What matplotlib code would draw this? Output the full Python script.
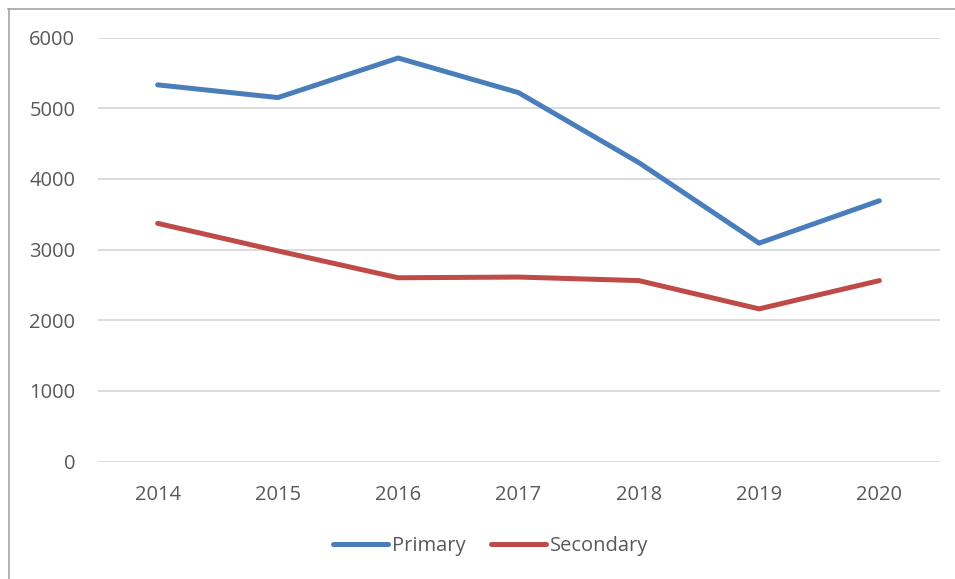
import matplotlib.pyplot as plt
from matplotlib.lines import Line2D

# données
annees = ["2014", "2015", "2016", "2017", "2018", "2019", "2020"]
primary = [5330, 5150, 5710, 5220, 4230, 3090, 3690]
secondary = [3370, 2980, 2600, 2610, 2560, 2160, 2560]
yticks = [0, 1000, 2000, 3000, 4000, 5000, 6000]

plt.rcParams['font.family'] = ['Open Sans', 'DejaVu Sans']

fig = plt.figure(figsize=(9.55, 5.79), dpi=100)
ax = fig.add_axes([97.5 / 955, 1 - 461.5 / 579, 842 / 955, 424 / 579])

x = list(range(len(annees)))
ax.plot(x, primary, color='#4A7EBB', linewidth=3.6, solid_capstyle='round',
        solid_joinstyle='round', label='Primary')
ax.plot(x, secondary, color='#BE4B48', linewidth=3.6, solid_capstyle='round',
        solid_joinstyle='round', label='Secondary')

ax.set_xlim(-0.5, 6.5)
ax.set_ylim(0, 6000)
ax.set_xticks(x)
ax.set_xticklabels(annees)
ax.set_yticks(yticks)
ax.set_yticklabels([str(v) for v in yticks])
ax.tick_params(axis='both', length=0, labelsize=14.5, labelcolor='#595959')
ax.tick_params(axis='y', pad=16)
ax.tick_params(axis='x', pad=17)
ax.grid(True, axis='y', color='#D9D9D9', linewidth=1.3)
ax.set_axisbelow(True)
for s in ax.spines.values():
    s.set_visible(False)

leg = ax.legend(loc='center', bbox_to_anchor=(0.467, -0.2), ncol=2, frameon=False,
                fontsize=14.5, handlelength=2.7, handletextpad=0.2, columnspacing=1.3)
for t in leg.get_texts():
    t.set_color('#595959')

# cadre du graphique (coupé à droite et en bas)
fig.add_artist(Line2D([8.5 / 955, 8.5 / 955], [1 - 9 / 579, 0], transform=fig.transFigure,
                      color='#A5A5A0', linewidth=1.2))
fig.add_artist(Line2D([8 / 955, 1], [1 - 9 / 579, 1 - 9 / 579], transform=fig.transFigure,
                      color='#A5A5A0', linewidth=1.2))

fig.savefig('out.png', dpi=100)
